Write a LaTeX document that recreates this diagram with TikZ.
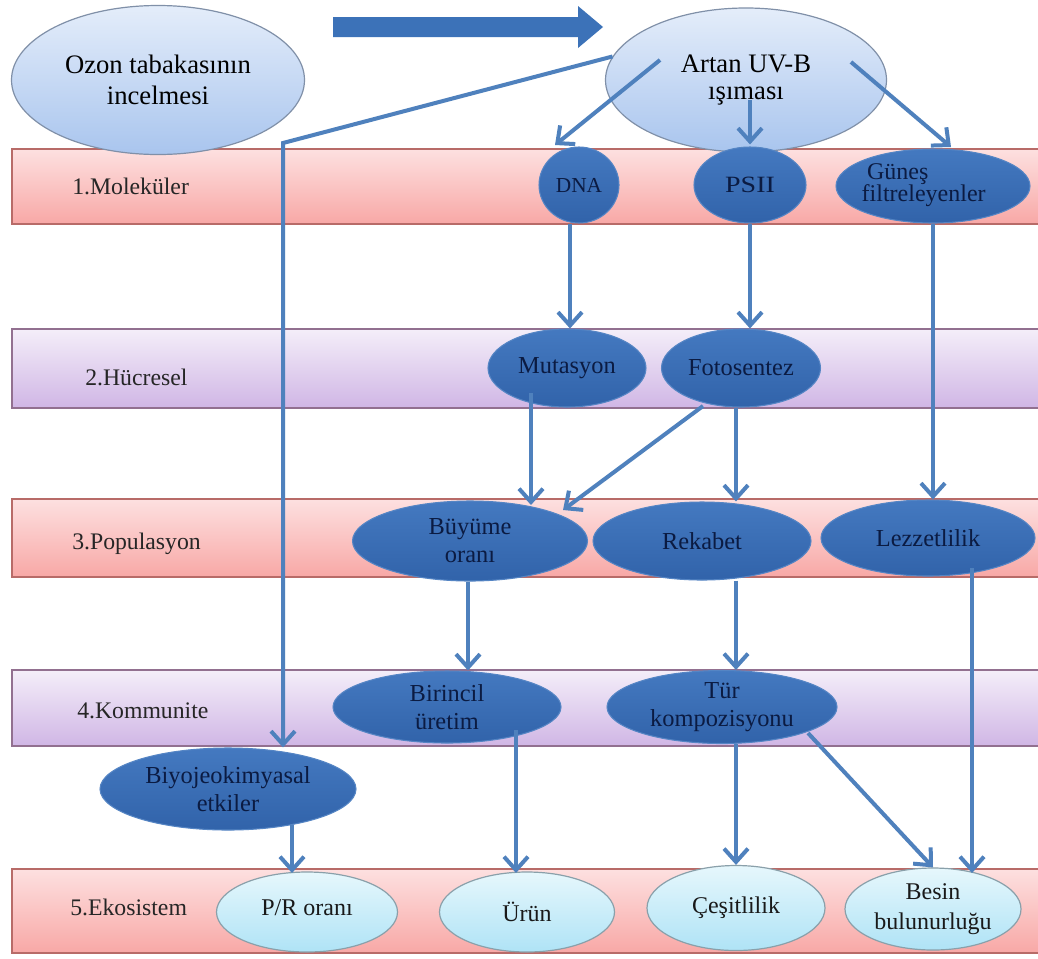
\documentclass[tikz,border=0pt]{standalone}
\usepackage{fontspec}
\setmainfont{Liberation Serif}
\usetikzlibrary{shapes.geometric,arrows.meta,calc}
\definecolor{arrowblue}{HTML}{4F81BD}
\definecolor{bigblue}{HTML}{3C72B8}
\definecolor{darktop}{HTML}{4479C0}
\definecolor{darkbot}{HTML}{3163AA}
\definecolor{darkborder}{HTML}{5585C4}
\definecolor{darktext}{HTML}{0B1B42}
\definecolor{lbtop}{HTML}{E4EDFA}
\definecolor{lbbot}{HTML}{A9C5EE}
\definecolor{lbborder}{HTML}{8090A8}
\definecolor{cytop}{HTML}{E6F7FC}
\definecolor{cybot}{HTML}{AFE3F6}
\definecolor{cyborder}{HTML}{8AA0AA}
\definecolor{pinktop}{HTML}{FDE0E0}
\definecolor{pinkbot}{HTML}{F8A8A6}
\definecolor{pinkborder}{HTML}{B86B68}
\definecolor{purptop}{HTML}{F4EEF9}
\definecolor{purpbot}{HTML}{D0B6E5}
\definecolor{purpborder}{HTML}{927090}
\tikzset{
  sz/.style 2 args={minimum width=#1*0.75pt, minimum height=#2*0.75pt},
  pinkband/.style={draw=pinkborder, line width=1.2pt, top color=pinktop, bottom color=pinkbot},
  purpband/.style={draw=purpborder, line width=1.2pt, top color=purptop, bottom color=purpbot},
  bandlabel/.style={anchor=west, text=black!85, font=\fontsize{17.8}{20}\selectfont, inner sep=0pt},
  darkell/.style={ellipse, inner sep=0pt, draw=darkborder, line width=0.8pt, top color=darktop, bottom color=darkbot, text=darktext, align=center, font=\fontsize{18.3}{21}\selectfont},
  lightell/.style={ellipse, inner sep=0pt, draw=lbborder, line width=0.9pt, top color=lbtop, bottom color=lbbot, text=black, align=center, font=\fontsize{20}{23}\selectfont},
  cyanell/.style={ellipse, inner sep=0pt, draw=cyborder, line width=0.9pt, top color=cytop, bottom color=cybot, text=black!90, align=center, font=\fontsize{18}{22}\selectfont},
  arr/.style={draw=arrowblue, line width=3pt, -{Straight Barb[length=10pt,width=18pt]}}
}
\begin{document}
\begin{tikzpicture}[x=0.75pt,y=-0.75pt]
\useasboundingbox (0,0) rectangle (1038,958);
\fill[white] (0,0) rectangle (1038,958);
% bands
\begin{scope}
\clip (0,0) rectangle (1038,958);
\path[pinkband] (12,149) rectangle (1046,224);
\path[purpband] (12,329) rectangle (1046,408);
\path[pinkband] (12,499) rectangle (1046,577);
\path[purpband] (12,670) rectangle (1046,746);
\path[pinkband] (12,869) rectangle (1046,953);
\end{scope}
\node[bandlabel] (l1) at (72,186) {1.Moleküler};
\node[bandlabel] (l2) at (85,377) {2.Hücresel};
\node[bandlabel] (l3) at (72,544) {3.Populasyon};
\node[bandlabel] (l4) at (77,711) {4.Kommunite};
\node[bandlabel] (l5) at (70,907) {5.Ekosistem};
% big arrow
\fill[bigblue] (333,17) -- (578,17) -- (578,6) -- (603,27) -- (578,48) -- (578,37) -- (333,37) -- cycle;
% top ellipses
\node[lightell, sz={293}{149}] (ozon) at (158,80) {Ozon tabakasının\\incelmesi};
\node[lightell, sz={281}{144}] (artan) at (746,80) {\raisebox{10pt}{\begin{tabular}{@{}c@{}}Artan UV-B\\[-3pt]ışıması\end{tabular}}};
% level 1
\node[darkell, sz={80}{76}] (dna) at (579,185) {\fontsize{16}{18}\selectfont DNA};
\node[darkell, sz={112}{76}] (psii) at (750,185) {\scalebox{1.2}[1]{\fontsize{17.5}{18}\selectfont PSII}};
\node[darkell, sz={194}{74}, font=\fontsize{18}{16}\selectfont] (gunes) at (933,186) {\hspace*{-14pt}\begin{tabular}{@{}l@{}}\hspace*{4pt}Güneş\\[-1pt]filtreleyenler\end{tabular}};
% level 2
\node[darkell, sz={158}{78}] (mut) at (567,368) {Mutasyon};
\node[darkell, sz={159}{78}] (foto) at (741,368) {Fotosentez};
% level 3
\node[darkell, sz={235}{80}] (buy) at (470,541) {Büyüme\\oranı};
\node[darkell, sz={218}{78}] (rek) at (702,541) {\raisebox{-4pt}{Rekabet}};
\node[darkell, sz={214}{76}] (lez) at (928,538) {Lezzetlilik};
% level 4
\node[darkell, sz={228}{72}] (bir) at (447,707) {Birincil\\üretim};
\node[darkell, sz={230}{73}] (tur) at (722,707) {Tür\\kompozisyonu};
\node[darkell, sz={256}{82}] (biyo) at (228,789) {Biyojeokimyasal\\etkiler};
% level 5
\node[cyanell, sz={181}{80}] (pr) at (307,912) {\raisebox{6pt}{P/R oranı}};
\node[cyanell, sz={175}{80}] (urun) at (527,912) {Ürün};
\node[cyanell, sz={178}{85}] (ces) at (736,908) {Çeşitlilik};
\node[cyanell, sz={176}{82}] (besin) at (933,909) {Besin\\bulunurluğu};
% connectors
\coordinate (bend) at (283,143);
\draw[arr] (artan.170) -- (bend) -- (bend |- biyo.north);
\draw[arr] ([shift={(-86,-20)}]artan.center) -- ([shift={(-24,-40)}]dna.center);
\draw[arr] ([shift={(4,20)}]artan.center) -- ([shift={(0,-2)}]psii.north);
\draw[arr] ([shift={(105,-18)}]artan.center) -- ([shift={(18,-39)}]gunes.center);
\draw[arr] ([shift={(-9,0)}]dna.south) -- ([shift={(-9,0)}]dna.south |- mut.north);
\draw[arr] (psii.south) -- (psii.south |- foto.north);
\draw[arr] (gunes.south) -- (gunes.south |- lez.north);
\draw[arr] ([shift={(-36,25)}]mut.center) -- ([shift={(61,-36)}]buy.center);
\draw[arr] ([shift={(-38,38)}]foto.center) -- ([shift={(93,-31)}]buy.center);
\draw[arr] ([shift={(-5,0)}]foto.south) -- ([shift={(-5,0)}]foto.south |- rek.north);
\draw[arr] ([shift={(-2,0)}]buy.south) -- ([shift={(-2,0)}]buy.south |- bir.north);
\draw[arr] ([shift={(34,0)}]rek.south) -- ([shift={(34,0)}]rek.south |- tur.north);
\draw[arr] ([shift={(44,30)}]lez.center) -- ([shift={(39,-36)}]besin.center);
\draw[arr] ([shift={(64,36)}]biyo.center) -- ([shift={(-15,-39)}]pr.center);
\draw[arr] ([shift={(69,23)}]bir.center) -- ([shift={(-11,-39)}]urun.center);
\draw[arr] ([shift={(14,0)}]tur.south) -- ([shift={(14,0)}]tur.south |- ces.north);
\draw[arr] ([shift={(86,26)}]tur.center) -- (besin.north);
\end{tikzpicture}
\end{document}
